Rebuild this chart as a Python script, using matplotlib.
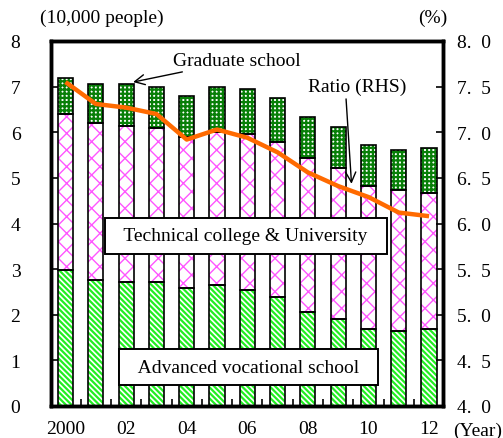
import numpy as np
import matplotlib
matplotlib.use("Agg")
import matplotlib.pyplot as plt

plt.rcParams['font.family'] = 'serif'
plt.rcParams['font.serif'] = ['Liberation Serif', 'DejaVu Serif']

years = list(range(2000, 2013))
year_labels = ['2000', '', '02', '', '04', '', '06', '', '08', '', '10', '', '12']
# students, 10,000 people
vocational = [2.98, 2.77, 2.71, 2.72, 2.58, 2.65, 2.55, 2.38, 2.05, 1.91, 1.69, 1.65, 1.69]
university = [3.42, 3.44, 3.42, 3.38, 3.31, 3.35, 3.42, 3.40, 3.38, 3.30, 3.14, 3.09, 2.97]
graduate = [0.79, 0.85, 0.93, 0.90, 0.91, 1.00, 0.98, 0.96, 0.90, 0.90, 0.88, 0.87, 0.99]
# ratio, % (right axis)
ratio = [7.55, 7.31, 7.27, 7.20, 6.92, 7.03, 6.94, 6.78, 6.56, 6.41, 6.29, 6.12, 6.08]

x = np.arange(len(years))
voc = np.array(vocational)
uni = np.array(university)
grad = np.array(graduate)

fig = plt.figure(figsize=(5.03, 4.39), dpi=100)
ax = fig.add_axes([51/503, 32/439, 392/503, 365/439])

w = 0.5
def stacked(vals, base, fc, hc, hatch, hlw):
    bars = ax.bar(x, vals, w, bottom=base, color=fc, edgecolor=hc, hatch=hatch,
                  linewidth=0, zorder=2)
    for b in bars:
        b.set_hatch_linewidth(hlw)
    ax.bar(x, vals, w, bottom=base, fill=False, edgecolor='black', linewidth=1.2, zorder=3)

stacked(voc, 0, 'white', '#22ee22', '\\' * 6, 1.6)
stacked(uni, voc, 'white', '#ff55ff', 'xx', 1.0)
stacked(grad, voc + uni, 'white', '#087f08', '+' * 4, 1.6)

ax.set_xlim(-0.48, 12.46)
ax.set_ylim(0, 8)
ax.set_yticks(range(9))
ax.tick_params(axis='y', direction='in', length=5, width=1.2, pad=22, labelsize=14)
ax.set_xticks(x)
ax.set_xticklabels(year_labels)
ax.set_xticks(x[:-1] + 0.5, minor=True)
ax.tick_params(axis='x', which='major', length=0, pad=10, labelsize=14)
ax.tick_params(axis='x', which='minor', direction='in', length=5, width=1.2)
for s in ax.spines.values():
    s.set_linewidth(2.5)

ax2 = ax.twinx()
ax2.set_ylim(4, 8)
rt = np.arange(4.0, 8.01, 0.5)
ax2.set_yticks(rt)
ax2.set_yticklabels(['%.0f.\u2002%d' % (np.floor(v), round((v % 1) * 10)) for v in rt])
ax2.tick_params(axis='y', direction='in', length=5, width=1.2, pad=10, labelsize=14)
for s in ax2.spines.values():
    s.set_linewidth(2.5)
ax2.plot(x, ratio, color='#ff6a00', linewidth=3.2, solid_joinstyle='round',
         solid_capstyle='butt', zorder=4)

box = dict(boxstyle='square,pad=0.5', fc='white', ec='black', lw=1.4)
ax.text(5.95, 3.73, '  Technical college & University  ', fontsize=14,
        ha='center', va='center', bbox=box, zorder=6)
ax.text(6.05, 0.85, '  Advanced vocational school  ', fontsize=14,
        ha='center', va='center', bbox=box, zorder=6)

arrow = dict(arrowstyle='->', color='black', lw=1.0, mutation_scale=18,
             shrinkA=0, shrinkB=0)
ax2.annotate('Graduate school', xy=(2.23, 7.1), xycoords=ax.transData,
             xytext=(5.66, 7.57), textcoords=ax.transData, fontsize=14,
             ha='center', va='center', arrowprops=arrow)
ax2.annotate('', xy=(9.44, 4.87), xycoords=ax.transData,
             xytext=(9.26, 6.73), textcoords=ax.transData, arrowprops=arrow)
ax2.text(9.62, 7.0, 'Ratio (RHS)', transform=ax.transData, fontsize=14,
         ha='center', va='center')

fig.text(40/503, 1 - 18/439, '(10,000 people)', fontsize=14, ha='left', va='center')
fig.text(447/503, 1 - 18/439, '(%)', fontsize=14, ha='right', va='center')
fig.text(478/503, 1 - 431/439, '(Year)', fontsize=14, ha='center', va='center')

fig.savefig('out.png', dpi=100)
